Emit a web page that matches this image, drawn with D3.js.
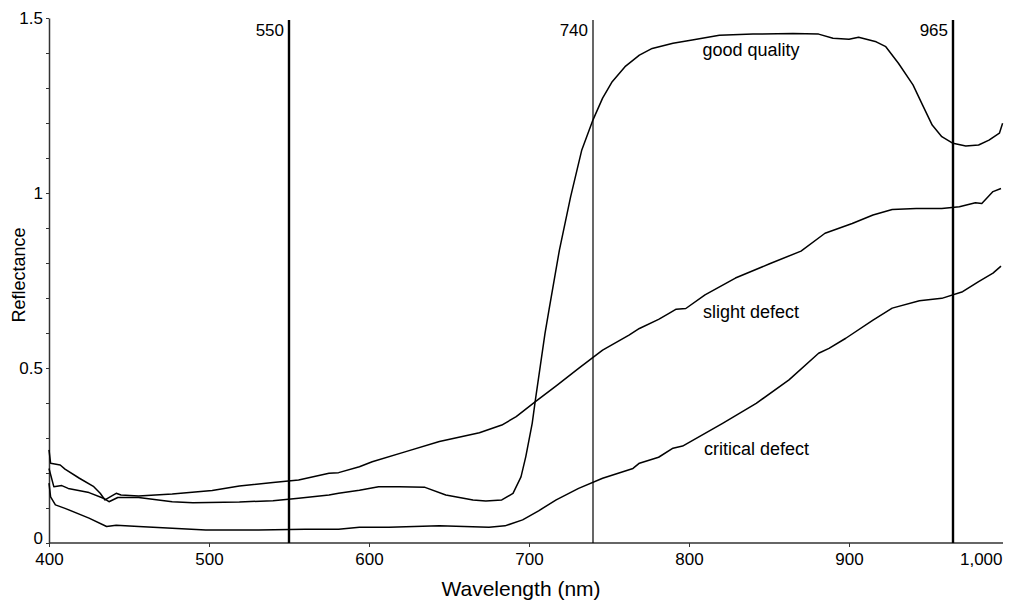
<!DOCTYPE html>
<html>
<head>
<meta charset="utf-8">
<script src="https://cdn.jsdelivr.net/npm/d3@7"></script>
<style>
body { margin:0; background:#fff; }
text { font-family: Arial, "Liberation Sans", sans-serif; fill:#000; }
</style>
</head>
<body>
<div id="graph"></div>
<script>
// spectra, [wavelength nm, reflectance]
var goodQuality = [
  [400,0.213],[403,0.161],[408,0.164],[412,0.156],[425,0.144],[434,0.128],[437.5,0.118],
  [443,0.130],[456,0.130],[477,0.118],[490,0.115],[519,0.117],[540,0.121],[556,0.128],
  [575,0.137],[581,0.142],[594,0.151],[606,0.161],[619,0.161],[635,0.159],[648,0.137],
  [665,0.123],[673,0.120],[683,0.123],[690,0.142],[695,0.189],[698,0.247],[702,0.342],
  [704,0.409],[707,0.504],[710,0.599],[712.5,0.666],[719,0.837],[726,0.989],[733,1.123],
  [740,1.209],[746,1.271],[752,1.318],[760,1.361],[769,1.394],[777,1.413],[790,1.428],
  [802,1.437],[819,1.451],[840,1.454],[865,1.456],[881,1.454],[890,1.442],[900,1.439],
  [906,1.445],[917,1.432],[923,1.418],[931,1.370],[940,1.309],[946,1.251],[952,1.194],
  [958,1.161],[965,1.142],[973,1.134],[981,1.137],[987.5,1.151],[994,1.171],[996,1.199]
];
var slightDefect = [
  [400,0.266],[401,0.228],[407,0.223],[410,0.211],[419,0.185],[428,0.161],[432,0.142],
  [435,0.123],[439,0.134],[442,0.142],[445,0.137],[456,0.134],[477,0.140],[502,0.150],
  [519,0.163],[540,0.173],[556,0.180],[575,0.199],[581,0.201],[594,0.218],[602,0.232],
  [623,0.261],[644,0.290],[669,0.315],[683,0.337],[692,0.361],[704,0.404],[717,0.449],
  [731,0.499],[746,0.551],[762.5,0.594],[769,0.613],[781,0.639],[787.5,0.656],[792,0.668],
  [798,0.670],[810,0.709],[829,0.757],[850,0.797],[870,0.834],[885,0.885],[902,0.913],
  [915,0.937],[927,0.953],[942,0.956],[958,0.956],[969,0.961],[979,0.972],[983,0.970],
  [990,1.004],[995,1.013]
];
var criticalDefect = [
  [400,0.171],[401,0.132],[404,0.109],[410,0.099],[425,0.071],[436,0.047],[442,0.051],
  [456,0.047],[498,0.037],[531,0.037],[560,0.039],[581,0.039],[594,0.045],[612.5,0.045],
  [644,0.049],[675,0.045],[685,0.049],[696,0.066],[706,0.092],[717,0.123],[731,0.156],
  [746,0.185],[765,0.213],[769,0.228],[781,0.245],[790,0.271],[796,0.277],[821,0.342],
  [842,0.399],[862.5,0.466],[881,0.542],[887.5,0.556],[898,0.585],[915,0.637],[927,0.671],
  [944,0.692],[958,0.699],[971,0.718],[981,0.747],[990,0.771],[995,0.791]
];
var curveNames = ["good quality", "slight defect", "critical defect"];
var markers = [550, 740, 965];
var xTicks = [400, 500, 600, 700, 800, 900, 1000];
var yTicks = [0, 0.1, 0.2, 0.3, 0.4, 0.5, 0.6, 0.7, 0.8, 0.9, 1, 1.1, 1.2, 1.3, 1.4, 1.5];
var yLabels = [0, 0.5, 1, 1.5];

// setting up the graph
var w = 1009, h = 601;
var vis = d3.select("div#graph").append("svg")
    .attr("width", w)
    .attr("height", h);

var x = d3.scaleLinear().domain([400, 1000]).range([49, 1009]);
var y = d3.scaleLinear().domain([0, 1.5]).range([543, 18]);
var xEnd = 1003;

// x axis
var gx = vis.append("g")
    .attr("transform", "translate(0," + y(0) + ")")
    .call(d3.axisBottom(x).tickValues(xTicks).tickSize(4).tickSizeOuter(0)
          .tickPadding(6).tickFormat(d3.format(",")));
gx.select(".domain").attr("d", "M" + x(400) + ",0H" + xEnd);
gx.selectAll(".tick").filter(function(d){ return d == 1000; })
    .each(function(){
      d3.select(this).select("line").remove();
      d3.select(this).select("text").attr("text-anchor", "end").attr("x", xEnd - x(1000) - 1);
    });

// y axis, minor ticks every 0.1
var gy = vis.append("g")
    .attr("transform", "translate(" + x(400) + ",0)")
    .call(d3.axisLeft(y).tickValues(yTicks).tickSize(3).tickSizeOuter(0).tickPadding(3)
          .tickFormat(function(d){ return yLabels.indexOf(d) >= 0 ? String(d) : ""; }));
// the zero label sits a little higher so it clears the 400
gy.selectAll(".tick").filter(function(d){ return d == 0; })
    .select("text").attr("dy", "0.05em");

vis.selectAll(".domain").attr("stroke", "#333").attr("stroke-width", 1.5);
vis.selectAll(".tick line").attr("stroke", "#333");
vis.selectAll(".tick text").attr("font-size", "17px").attr("font-family", null).attr("fill", "#000");

// axis titles
vis.append("text")
    .attr("x", 521).attr("y", 596)
    .attr("text-anchor", "middle")
    .attr("font-size", "21px")
    .text("Wavelength (nm)");
vis.append("text")
    .attr("transform", "translate(25,275) rotate(-90)")
    .attr("text-anchor", "middle")
    .attr("font-size", "18px")
    .text("Reflectance");

// wavelength markers
vis.selectAll("line.marker")
    .data(markers)
    .enter().append("line")
    .attr("class", "marker")
    .attr("x1", function(d) { return x(d); })
    .attr("x2", function(d) { return x(d); })
    .attr("y1", 20)
    .attr("y2", y(0))
    .attr("stroke", "#000")
    .attr("stroke-width", function(d) { return d == 740 ? 1.2 : 2.4; });
vis.selectAll("text.marker")
    .data(markers)
    .enter().append("text")
    .attr("class", "marker")
    .attr("x", function(d) { return x(d) - 5; })
    .attr("y", 36)
    .attr("text-anchor", "end")
    .attr("font-size", "17px")
    .text(function(d) { return d; });

// the three spectra
var line = d3.line()
    .x(function(d) { return x(d[0]); })
    .y(function(d) { return y(d[1]); });

vis.selectAll("path.curve")
    .data([goodQuality, slightDefect, criticalDefect])
    .enter().append("path")
    .attr("class", "curve")
    .attr("d", line)
    .attr("fill", "none")
    .attr("stroke", "#000")
    .attr("stroke-width", 1.5)
    .attr("stroke-linejoin", "round");

// curve labels
var labelPos = [[751, 56, "middle"], [703, 318, "start"], [704, 455, "start"]];
vis.selectAll("text.curve")
    .data(curveNames)
    .enter().append("text")
    .attr("class", "curve")
    .attr("x", function(d, i) { return labelPos[i][0]; })
    .attr("y", function(d, i) { return labelPos[i][1]; })
    .attr("text-anchor", function(d, i) { return labelPos[i][2]; })
    .attr("font-size", "18px")
    .text(function(d) { return d; });
</script>
</body>
</html>
